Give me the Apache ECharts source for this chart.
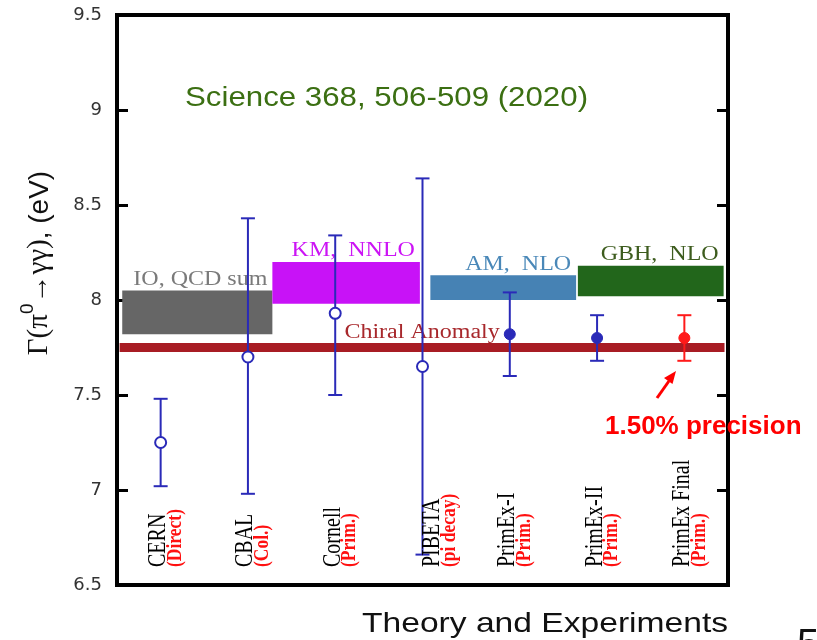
<!DOCTYPE html>
<html><head><meta charset="utf-8">
<script src="https://cdn.jsdelivr.net/npm/echarts@6/dist/echarts.min.js"></script>
<style>html,body{margin:0;padding:0;background:#fff}#c{width:817px;height:640px}</style>
</head><body><div id="c"></div>
<script>
// ---- data ----
const categories = ['CERN', 'CBAL', 'Cornell', 'PIBETA', 'PrimEx-I', 'PrimEx-II', 'PrimEx Final'];
const methods = ['(Direct)', '(Col.)', '(Prim.)', '(pi decay)', '(Prim.)', '(Prim.)', '(Prim.)'];
const widthValues = [7.25, 7.70, 7.93, 7.65, 7.82, 7.80, 7.80];
const errLow = [7.02, 6.98, 7.50, 6.66, 7.60, 7.68, 7.68];
const errHigh = [7.48, 8.43, 8.34, 8.64, 8.04, 7.92, 7.92];
const theoryNames = ['IO, QCD sum', 'KM,  NNLO', 'AM,  NLO', 'GBH,  NLO'];
const theoryLow = [7.82, 7.98, 8.00, 8.02];
const theoryHigh = [8.05, 8.20, 8.13, 8.18];
const theoryFrom = [0.06, 1.78, 3.59, 5.28];
const theoryTo = [1.78, 3.47, 5.26, 6.95];
const chiralAnomaly = 7.75;
const chiralFrom = 0.03, chiralTo = 6.96;
const yTickMin = 6.5, yTickMax = 9.5, yTickStep = 0.5;

// ---- styles ----
const theoryFill = ['#666666', '#c812f7', '#4682b4', '#22661b'];
const theoryText = ['#7a7a7a', '#cc14f5', '#4a88b8', '#3d5c1e'];
const blue = '#2a2ab8', red = '#ff1a1a';
const labelNudge = {3: 12};

const idx = categories.map((c, i) => i);
const pointData = g => idx.filter(g).map(i => [i + 0.5, widthValues[i], errLow[i], errHigh[i]]);
const earlier = pointData(i => i < 4);
const primex = pointData(i => i >= 4 && i < 6);
const finalPt = pointData(i => i === 6);

function errRender(color, open) {
  return function (params, api) {
    const x = api.value(0);
    const p = api.coord([x, api.value(1)]);
    const lo = api.coord([x, api.value(2)]);
    const hi = api.coord([x, api.value(3)]);
    const cw = 7;
    const ls = {stroke: color, lineWidth: 2};
    return {type: 'group', children: [
      {type: 'line', shape: {x1: p[0], y1: lo[1], x2: p[0], y2: hi[1]}, style: ls},
      {type: 'line', shape: {x1: p[0] - cw, y1: lo[1], x2: p[0] + cw, y2: lo[1]}, style: ls},
      {type: 'line', shape: {x1: p[0] - cw, y1: hi[1], x2: p[0] + cw, y2: hi[1]}, style: ls},
      {type: 'circle', shape: {cx: p[0], cy: p[1], r: 5.5},
        style: open ? {fill: '#fff', stroke: color, lineWidth: 2} : {fill: color, stroke: color, lineWidth: 1}}
    ]};
  };
}

const chart = echarts.init(document.getElementById('c'));
chart.setOption({
  animation: false,
  grid: {left: 117, right: 89, top: 15, bottom: 55, show: true, borderColor: '#000', borderWidth: 4, backgroundColor: 'transparent'},
  xAxis: {type: 'value', min: 0, max: 7, show: false},
  yAxis: [0, 1].map(k => ({
    type: 'value', min: yTickMin, max: yTickMax, interval: yTickStep, position: k ? 'right' : 'left',
    axisLine: {show: false}, splitLine: {show: false},
    axisTick: {show: true, inside: true, length: 11, lineStyle: {color: '#000', width: 3}},
    axisLabel: {show: !k, margin: 15, fontFamily: 'DejaVu Sans', fontSize: 18, color: '#333'}
  })),
  series: [
    {
      type: 'custom', name: 'Theory', data: theoryNames.map((n, i) => [theoryFrom[i], theoryTo[i], theoryLow[i], theoryHigh[i], i]),
      encode: {x: [0, 1], y: [2, 3]}, z: 2,
      renderItem(params, api) {
        const i = api.value(4);
        const a = api.coord([api.value(0), api.value(3)]);
        const b = api.coord([api.value(1), api.value(2)]);
        return {type: 'group', children: [
          {type: 'rect', shape: {x: a[0], y: a[1], width: b[0] - a[0], height: b[1] - a[1]}, style: {fill: theoryFill[i]}},
          {type: 'text', x: b[0] - 5, y: a[1] - 1, scaleX: 1.2,
            style: {text: theoryNames[i], font: '20px "Liberation Serif"', fill: theoryText[i], align: 'right', verticalAlign: 'bottom'}}
        ]};
      }
    },
    {
      type: 'custom', name: 'Chiral Anomaly', data: [[chiralFrom, chiralTo, chiralAnomaly]], encode: {x: [0, 1], y: 2}, z: 3,
      renderItem(params, api) {
        const a = api.coord([api.value(0), api.value(2)]);
        const b = api.coord([api.value(1), api.value(2)]);
        return {type: 'group', children: [
          {type: 'rect', shape: {x: a[0], y: a[1] - 4.5, width: b[0] - a[0], height: 9}, style: {fill: '#a81c24'}},
          {type: 'text', x: (a[0] + b[0]) / 2, y: a[1] - 4.5, scaleX: 1.2,
            style: {text: 'Chiral Anomaly', font: '20px "Liberation Serif"', fill: '#a8282c', align: 'center', verticalAlign: 'bottom'}}
        ]};
      }
    },
    {type: 'custom', name: 'Earlier', data: earlier, encode: {x: 0, y: [1, 2, 3]}, z: 5, renderItem: errRender(blue, true)},
    {type: 'custom', name: 'PrimEx', data: primex, encode: {x: 0, y: [1, 2, 3]}, z: 5, renderItem: errRender(blue, false)},
    {type: 'custom', name: 'PrimEx Final', data: finalPt, encode: {x: 0, y: [1, 2, 3]}, z: 5, renderItem: errRender(red, false)},
    {
      type: 'custom', name: 'Labels', data: idx.map(i => [i + 0.5, yTickMin, i]), encode: {x: 0, y: 1}, z: 6,
      renderItem(params, api) {
        const i = api.value(2);
        const p = api.coord([api.value(0), api.value(1)]);
        const dx = labelNudge[i] || 0;
        return {type: 'group', children: [
          {type: 'text', x: p[0] - 2 + dx, y: p[1] - 18, rotation: Math.PI / 2, scaleY: 1.25,
            style: {text: categories[i], font: '20px "Liberation Serif"', fill: '#000', align: 'left', verticalAlign: 'middle'}},
          {type: 'text', x: p[0] + 15 + dx, y: p[1] - 18, rotation: Math.PI / 2, scaleY: 1.15,
            style: {text: methods[i], font: 'bold 17.5px "Liberation Serif"', fill: '#ff1010', align: 'left', verticalAlign: 'middle'}}
        ]};
      }
    }
  ],
  graphic: [
    {type: 'text', x: 185, y: 98, scaleX: 1.116,
      style: {text: 'Science 368, 506-509 (2020)', font: '28px "Liberation Sans"', fill: '#3b6f12', align: 'left', verticalAlign: 'middle'}},
    {type: 'text', x: 362, y: 624, scaleX: 1.2,
      style: {text: 'Theory and Experiments', font: '28px "Liberation Sans"', fill: '#111', align: 'left', verticalAlign: 'middle'}},
    {type: 'text', x: 797, y: 626,
      style: {text: '5', font: '40px "Liberation Sans"', fill: '#111', align: 'left', verticalAlign: 'top'}},
    {type: 'text', x: 605, y: 427,
      style: {text: '1.50% precision', font: 'bold 26px "Liberation Sans"', fill: '#ff0000', align: 'left', verticalAlign: 'middle'}},
    {type: 'line', shape: {x1: 657, y1: 398, x2: 669, y2: 381}, style: {stroke: '#ff0000', lineWidth: 3}},
    {type: 'polygon', shape: {points: [[676, 371], [672.5, 384], [664, 378]]}, style: {fill: '#ff0000'}},
    {type: 'text', x: 36, y: 263, rotation: Math.PI / 2,
      style: {text: '{a|Γ(π}{s|0}{a|→γγ)}{b|, (eV)}', align: 'center', verticalAlign: 'middle',
        rich: {a: {font: '29px "Liberation Serif"', fill: '#111', verticalAlign: 'bottom', lineHeight: 36},
               b: {font: '28px "Liberation Sans"', fill: '#111', verticalAlign: 'bottom', lineHeight: 36},
               s: {font: '19px "Liberation Sans"', fill: '#111', verticalAlign: 'top', lineHeight: 36}}}}
  ]
});
</script></body></html>
